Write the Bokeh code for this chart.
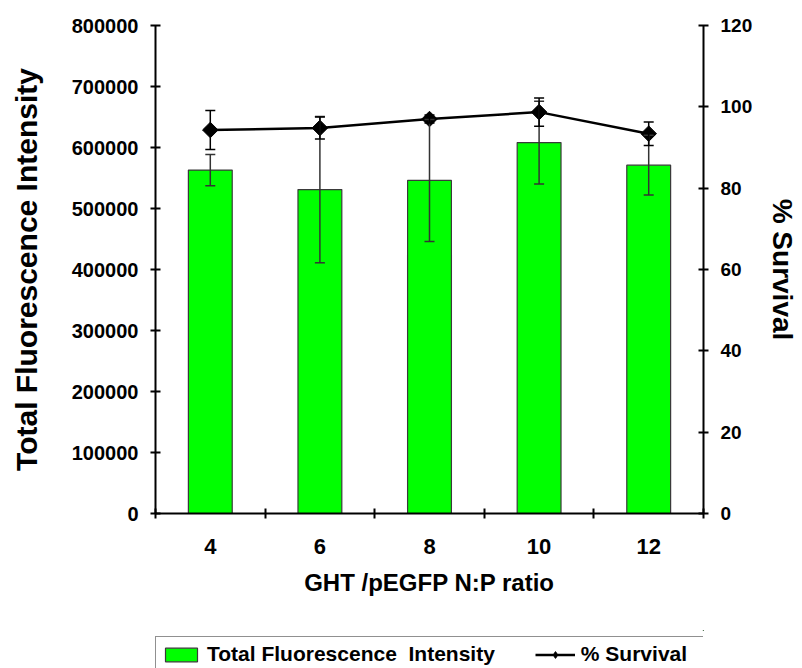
import math
from bokeh.plotting import figure
from bokeh.layouts import column
from bokeh.models import (Range1d, LinearAxis, FixedTicker, SingleIntervalTicker,
                          NumeralTickFormatter, Whisker, TeeHead, ColumnDataSource,
                          Legend, LegendItem)
from bokeh.embed import file_html
from bokeh.resources import INLINE

# ---- data ----
ratios = ["4", "6", "8", "10", "12"]
intensity = [563000, 531000, 546000, 608000, 571000]
intensity_err = [25500, 120000, 100000, 68000, 49000]
survival = [94.3, 94.8, 97.0, 98.7, 93.4]
survival_err = [4.8, 2.7, 1.0, 3.5, 2.9]

x_title = "GHT /pEGFP N:P ratio"
y_title = "Total Fluorescence Intensity"
y2_title = "% Survival"
bar_label = "Total Fluorescence  Intensity"
line_label = "% Survival"

FONT = "Liberation Sans"
BAR_FILL = "#00FF00"
BAR_LINE = "#3a3a3a"

xpos = [i + 0.5 for i in range(len(ratios))]
bounds = list(range(len(ratios) + 1))

src = ColumnDataSource(dict(
    x=xpos,
    inten=intensity,
    ilo=[v - e for v, e in zip(intensity, intensity_err)],
    ihi=[v + e for v, e in zip(intensity, intensity_err)],
    surv=survival,
    slo=[v - e for v, e in zip(survival, survival_err)],
    shi=[v + e for v, e in zip(survival, survival_err)],
))

p = figure(width=802, height=630, output_backend="svg", toolbar_location=None,
           x_range=Range1d(0, len(ratios)), y_range=Range1d(0, 800000),
           min_border_left=155, min_border_right=99, min_border_top=25,
           min_border_bottom=117, outline_line_color=None,
           background_fill_color="white", border_fill_color="white")
p.extra_y_ranges = {"surv": Range1d(0, 120)}
p.grid.visible = False

# bars
bars = p.vbar(x="x", top="inten", width=0.4, source=src, fill_color=BAR_FILL,
              line_color=BAR_LINE, line_width=1.2)

# bar error bars
werr = Whisker(base="x", lower="ilo", upper="ihi", source=src, dimension="height",
               line_color="#333333", line_width=1.5, level="overlay",
               lower_head=TeeHead(size=10, line_color="#333333", line_width=1.5),
               upper_head=TeeHead(size=10, line_color="#333333", line_width=1.5))
p.add_layout(werr)

# survival line + markers
line = p.line(x="x", y="surv", source=src, y_range_name="surv",
              line_color="black", line_width=2.5)
pts = p.scatter(x="x", y="surv", source=src, y_range_name="surv", marker="square",
                size=11, angle=math.pi / 4, fill_color="black", line_color="black")

serr = Whisker(base="x", lower="slo", upper="shi", source=src, dimension="height",
               y_range_name="surv", line_color="black", line_width=1.5, level="overlay",
               lower_head=TeeHead(size=10, line_color="black", line_width=1.5),
               upper_head=TeeHead(size=10, line_color="black", line_width=1.5))
p.add_layout(serr)


def style_axis(ax):
    ax.axis_line_color = "black"
    ax.axis_line_width = 2
    ax.major_tick_line_color = "black"
    ax.major_tick_line_width = 2
    ax.minor_tick_line_color = "black"
    ax.minor_tick_line_width = 2
    ax.major_label_text_font = FONT
    ax.major_label_text_font_style = "bold"
    ax.major_label_text_color = "black"
    ax.axis_label_text_font = FONT
    ax.axis_label_text_font_style = "bold"
    ax.axis_label_text_color = "black"


# x axis
xa = p.xaxis[0]
style_axis(xa)
xa.ticker = FixedTicker(ticks=xpos, minor_ticks=bounds)
xa.major_label_overrides = {x: r for x, r in zip(xpos, ratios)}
xa.major_tick_in = 0
xa.major_tick_out = 0
xa.minor_tick_in = 5
xa.minor_tick_out = 5
xa.major_label_text_font_size = "22px"
xa.major_label_standoff = 20
xa.axis_label = x_title
xa.axis_label_text_font_size = "24px"
xa.axis_label_standoff = 12

# left axis
ya = p.yaxis[0]
style_axis(ya)
ya.ticker = SingleIntervalTicker(interval=100000, num_minor_ticks=0)
ya.formatter = NumeralTickFormatter(format="0")
ya.major_tick_in = 5
ya.major_tick_out = 5
ya.minor_tick_in = 0
ya.minor_tick_out = 0
ya.major_label_text_font_size = "20px"
ya.major_label_standoff = 12
ya.axis_label = y_title
ya.axis_label_text_font_size = "30px"
ya.axis_label_standoff = 26

# right axis
ra = LinearAxis(y_range_name="surv",
                ticker=SingleIntervalTicker(interval=20, num_minor_ticks=0))
style_axis(ra)
ra.major_tick_in = 5
ra.major_tick_out = 5
ra.minor_tick_in = 0
ra.minor_tick_out = 0
ra.major_label_text_font_size = "19px"
ra.major_label_standoff = 12
ra.axis_label = y2_title
ra.axis_label_text_font_size = "28px"
ra.axis_label_standoff = 12
p.add_layout(ra, "right")

# ---- legend strip (separate figure below the chart) ----
# Its ranges keep the series out of view so only the legend shows.
lg = figure(width=802, height=38, output_backend="svg", toolbar_location=None,
            x_range=Range1d(-20, -19), y_range=Range1d(-2000000, -1999999),
            x_axis_type=None, y_axis_type=None, min_border=0,
            outline_line_color=None, background_fill_color="white",
            border_fill_color="white")
lg.grid.visible = False
lbar = lg.vbar(x="x", top="inten", width=0.4, source=src, fill_color=BAR_FILL,
               line_color=BAR_LINE, line_width=1.2)
lline = lg.line(x="x", y="surv", source=src, line_color="black", line_width=2.5)
lpts = lg.scatter(x="x", y="surv", source=src, marker="diamond", size=22,
                  fill_color="black", line_color="black")

legend = Legend(items=[LegendItem(label=bar_label, renderers=[lbar]),
                       LegendItem(label=line_label, renderers=[lline, lpts])],
                orientation="horizontal", location=(0, -4),
                glyph_width=40, glyph_height=17, label_standoff=6, spacing=40,
                padding=5, margin=0, label_width=220,
                label_text_font=FONT, label_text_font_style="bold",
                label_text_font_size="21px", label_text_color="black",
                border_line_color="#222222", border_line_width=1.5,
                background_fill_alpha=0)
lg.add_layout(legend, "center")

layout = column(p, lg, spacing=0)
open("out.html", "w").write(file_html(layout, INLINE))
